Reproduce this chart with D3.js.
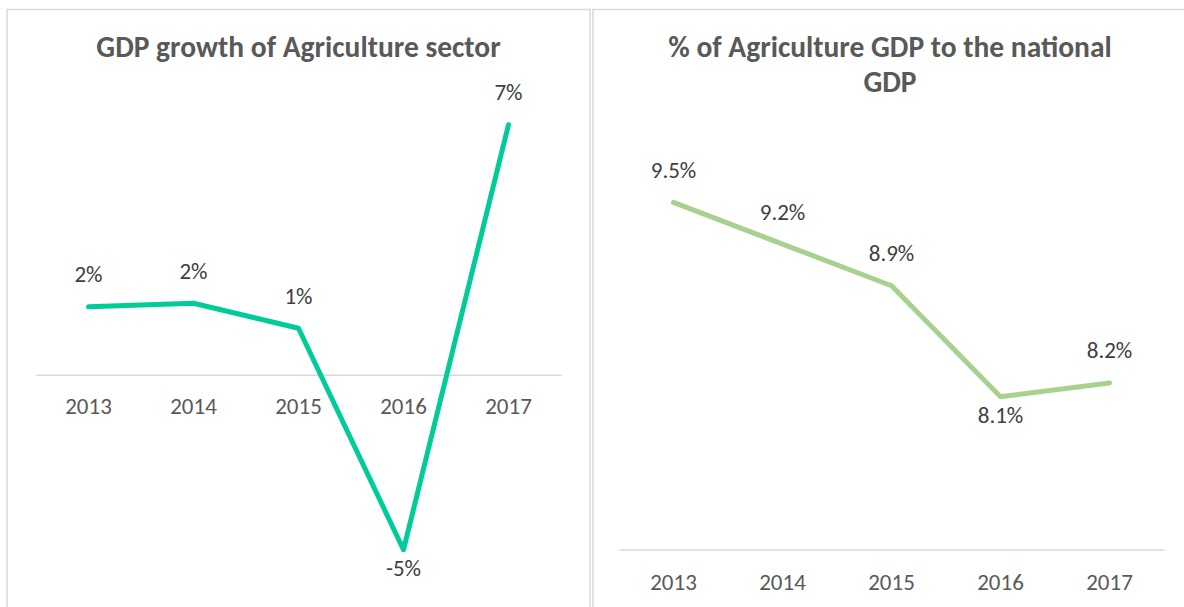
<!DOCTYPE html>
<html>
<head>
<meta charset="utf-8">
<script src="https://cdn.jsdelivr.net/npm/d3@7"></script>
<style>
  html, body { margin: 0; padding: 0; background: #ffffff; }
  svg { display: block; font-family: Carlito, Calibri, Lato, "Open Sans", sans-serif; }
</style>
</head>
<body>
<svg id="chart" width="1184" height="607"></svg>
<script>
// Years shared by both panels
const years = ["2013", "2014", "2015", "2016", "2017"];

// Left panel: annual GDP growth of the agriculture sector (%)
const growthTitle = ["GDP growth of Agriculture sector"];
const growthValues = [1.9, 2.0, 1.3, -4.9, 7.0];
const growthDomain = [-6, 8];

// Right panel: agriculture share of national GDP (%)
const shareTitle = ["% of Agriculture GDP to the national", "GDP"];
const shareValues = [9.5, 9.2, 8.9, 8.1, 8.2];
const shareDomain = [7, 10];

// plain hyphen for negative numbers
const locale = d3.formatLocale({
  decimal: ".", thousands: ",", grouping: [3], currency: ["$", ""], minus: "-"
});

const svg = d3.select("#chart");

const LABEL_SIZE = 23;

function panel(cfg) {
  const g = svg.append("g");

  // panel frame
  g.append("rect")
    .attr("x", cfg.frame[0]).attr("y", cfg.frame[1])
    .attr("width", cfg.frame[2]).attr("height", cfg.frame[3])
    .attr("fill", "#ffffff")
    .attr("stroke", "#d9d9d9")
    .attr("stroke-width", 1.5);

  // title
  const title = g.append("text")
    .attr("text-anchor", "middle")
    .attr("fill", "#595959")
    .attr("font-weight", "bold")
    .attr("font-size", cfg.titleSize);
  cfg.title.forEach((line, i) => {
    title.append("tspan")
      .attr("x", cfg.titleX)
      .attr("y", cfg.titleY + i * cfg.titleLine)
      .text(line);
  });

  const x = d3.scaleBand().domain(years).range(cfg.xRange);
  const y = d3.scaleLinear().domain(cfg.yDomain).range(cfg.yRange);
  const cx = d => x(d) + x.bandwidth() / 2;

  // category axis, sitting on the zero line (or the axis minimum)
  const axisY = y(Math.max(cfg.yDomain[0], 0));
  const axis = g.append("g")
    .attr("transform", `translate(0,${axisY})`)
    .call(d3.axisBottom(x).tickSize(0).tickSizeOuter(0).tickPadding(cfg.tickPad));
  axis.attr("font-family", null).attr("font-size", null);
  axis.select(".domain").attr("stroke", "#d9d9d9").attr("stroke-width", 1.5);
  axis.selectAll(".tick text")
    .attr("font-size", LABEL_SIZE)
    .attr("fill", "#595959");

  const pts = years.map((yr, i) => ({ yr, v: cfg.values[i] }));

  // series line
  g.append("path")
    .datum(pts)
    .attr("fill", "none")
    .attr("stroke", cfg.color)
    .attr("stroke-width", 5)
    .attr("stroke-linecap", "round")
    .attr("stroke-linejoin", "round")
    .attr("d", d3.line().x(d => cx(d.yr)).y(d => y(d.v)));

  // data labels
  g.selectAll("text.dl")
    .data(pts)
    .join("text")
    .attr("class", "dl")
    .attr("text-anchor", "middle")
    .attr("font-size", LABEL_SIZE)
    .attr("fill", "#404040")
    .attr("x", d => cx(d.yr))
    .attr("y", (d, i) => y(d.v) + (cfg.below[i] ? 26 : -24.5))
    .text(d => cfg.fmt(d.v) + "%");
}

panel({
  frame: [7, 9.5, 583, 620],
  title: growthTitle, titleX: 298.5, titleY: 57, titleLine: 35, titleSize: 29.5,
  xRange: [36, 561],
  yDomain: growthDomain, yRange: [589, 89],
  tickPad: 22.5,
  values: growthValues,
  color: "#00cc99",
  below: [false, false, false, true, false],
  fmt: locale.format(".0f")
});

panel({
  frame: [593, 9.5, 620, 620],
  title: shareTitle, titleX: 890, titleY: 57, titleLine: 35, titleSize: 29.5,
  xRange: [619, 1164],
  yDomain: shareDomain, yRange: [549.5, 133],
  tickPad: 24,
  values: shareValues,
  color: "#a9d18e",
  below: [false, false, false, true, false],
  fmt: locale.format(".1f")
});
</script>
</body>
</html>
